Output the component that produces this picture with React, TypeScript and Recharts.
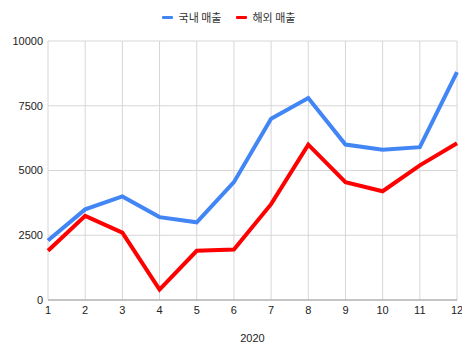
import { CartesianGrid, Label, Legend, Line, LineChart, XAxis, YAxis } from "recharts";

const months = [1, 2, 3, 4, 5, 6, 7, 8, 9, 10, 11, 12];
const domesticSales = [2300, 3500, 4000, 3200, 3000, 4550, 7000, 7800, 6000, 5800, 5900, 8800];
const overseasSales = [1900, 3250, 2600, 400, 1900, 1950, 3700, 6000, 4550, 4200, 5200, 6050];
const yTicks = [0, 2500, 5000, 7500, 10000];
const seriesNames = ["국내 매출", "해외 매출"];
const xLabel = "2020";

const colors = { domestic: "#4285f4", overseas: "#ff0000" };

const data = months.map((m, i) => ({
  month: m,
  domestic: domesticSales[i],
  overseas: overseasSales[i],
}));

const tickStyle = { fontFamily: "'Liberation Sans', Arial, sans-serif", fontSize: 11, fill: "#222" };

function LegendContent() {
  const items = [
    { name: seriesNames[0], color: colors.domestic },
    { name: seriesNames[1], color: colors.overseas },
  ];
  return (
    <div style={{ display: "flex", justifyContent: "center", alignItems: "center", height: 20 }}>
      {items.map((it) => (
        <div key={it.name} style={{ display: "flex", alignItems: "center", margin: "0 7px" }}>
          <span
            style={{
              display: "inline-block",
              width: 11,
              height: 3,
              borderRadius: 1,
              background: it.color,
              marginRight: 6,
            }}
          />
          <span style={{ fontFamily: "'Noto Sans CJK KR', sans-serif", fontSize: 11, color: "#333" }}>
            {it.name}
          </span>
        </div>
      ))}
    </div>
  );
}

export default function App() {
  return (
    <div style={{ margin: -8, width: 470, height: 356, background: "#fff" }}>
      <LineChart width={470} height={356} data={data} margin={{ top: 21, right: 13, left: 0, bottom: 10 }}>
        <Legend verticalAlign="top" content={<LegendContent />} wrapperStyle={{ top: 7, height: 20 }} />
        <CartesianGrid stroke="#d6d6d6" />
        <XAxis
          dataKey="month"
          type="number"
          domain={[1, 12]}
          ticks={months}
          tickLine={false}
          tickSize={0}
          tickMargin={6}
          tick={tickStyle}
          stroke="#9e9e9e"
          height={46}
          interval={0}
        >
          <Label value={xLabel} position="insideBottom" offset={4} style={tickStyle} />
        </XAxis>
        <YAxis
          domain={[0, 10000]}
          ticks={yTicks}
          axisLine={false}
          tickLine={false}
          tickSize={0}
          tickMargin={5}
          width={48}
          tick={tickStyle}
          interval={0}
        />
        <Line
          type="linear"
          dataKey="domestic"
          name={seriesNames[0]}
          stroke={colors.domestic}
          strokeWidth={4}
          dot={false}
          isAnimationActive={false}
        />
        <Line
          type="linear"
          dataKey="overseas"
          name={seriesNames[1]}
          stroke={colors.overseas}
          strokeWidth={4}
          dot={false}
          isAnimationActive={false}
        />
      </LineChart>
    </div>
  );
}
